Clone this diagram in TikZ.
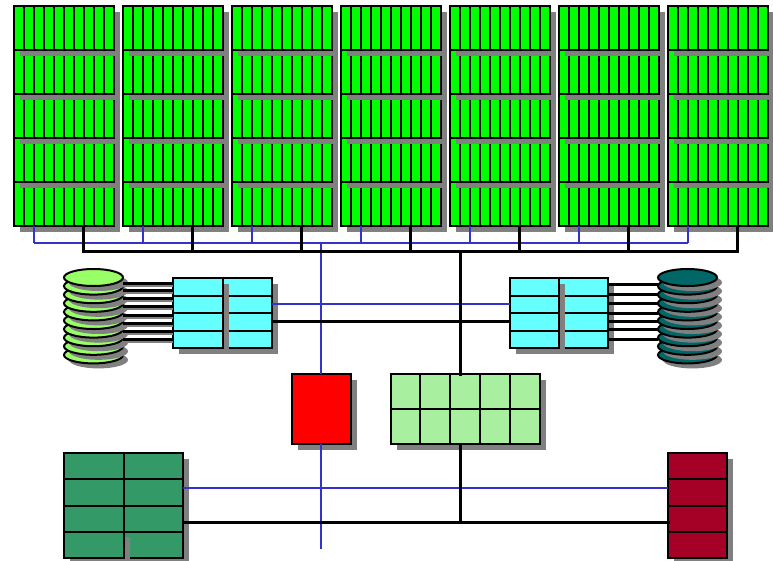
\documentclass[tikz,border=0pt]{standalone}
\usetikzlibrary{shapes.geometric,shadows,calc}
\definecolor{rack}{HTML}{00FF00}
\definecolor{cyanbox}{HTML}{66FFFF}
\definecolor{palegrn}{HTML}{A8F0A0}
\definecolor{seagrn}{HTML}{339966}
\definecolor{crimsonbox}{HTML}{A50026}
\definecolor{lightdisk}{HTML}{99FF66}
\definecolor{darkdisk}{HTML}{006666}
\definecolor{shade}{HTML}{808080}
\definecolor{bluewire}{HTML}{3333CC}
\tikzset{
  shadowed/.style={drop shadow={shadow xshift=6pt,shadow yshift=-6pt,fill=shade,opacity=1}},
  blockbox/.style={draw=black,line width=2pt,rectangle,inner sep=0pt,outer sep=0pt,anchor=north west},
  diskshape/.style={draw=black,line width=2pt,ellipse,inner sep=0pt,outer sep=0pt,minimum width=59pt,minimum height=17pt,
    drop shadow={shadow xshift=5pt,shadow yshift=-5pt,fill=shade,opacity=1}},
  divider/.style={draw=black,line width=2pt},
  kwire/.style={draw=black,line width=3pt,line cap=rect},
  bwire/.style={draw=bluewire,line width=2pt},
  dwire/.style={draw=black,line width=3pt},
  dshade/.style={draw=shade,line width=2pt},
}
% \gridbox{name}{x}{y}{w}{h}{colour}{cols}{rows}{extra}
\newcommand{\gridbox}[9]{%
  \node[blockbox,fill=#6,minimum width=#4pt,minimum height=#5pt,#9] (#1) at (#2,#3) {};
  \pgfmathtruncatemacro{\ncm}{#7-1}\pgfmathtruncatemacro{\nrm}{#8-1}
  \ifnum\ncm>0 \foreach \k in {1,...,\ncm}{\draw[divider] ({#2+\k*#4/#7},#3) -- ++(0,#5);}\fi
  \ifnum\nrm>0 \foreach \k in {1,...,\nrm}{\draw[divider] (#2,{#3+\k*#5/#8}) -- ++(#4,0);}\fi
}
\begin{document}
\begin{tikzpicture}[x=1pt,y=-1pt]
\useasboundingbox (0,0) rectangle (773,560);
% racks, bottom row first
\foreach \c [evaluate=\c as \xx using {14+(\c-1)*109}] in {1,...,7}{
  \foreach \r [evaluate=\r as \yy using {6+(\r-1)*44}] in {5,4,3,2,1}{
    \gridbox{r\c-\r}{\xx}{\yy}{99.5}{44}{rack}{10}{1}{shadowed}
  }
}
% disks
\foreach \i in {9,8,...,0}{
  \node[diskshape,fill=lightdisk] (dl\i) at (93.5,{277.5+\i*8.6}) {};
  \node[diskshape,fill=darkdisk] (dr\i) at (687.5,{277.5+\i*8.6}) {};
}
% cyan blocks
\gridbox{cl2}{223}{278}{49}{70}{cyanbox}{1}{4}{shadowed}
\gridbox{cl1}{173}{278}{50}{70}{cyanbox}{1}{4}{shadowed}
\gridbox{cr2}{559}{278}{49}{70}{cyanbox}{1}{4}{shadowed}
\gridbox{cr1}{509.5}{278}{49.5}{70}{cyanbox}{1}{4}{shadowed}
% centre
\gridbox{redb}{292}{374}{59}{70}{red}{1}{1}{shadowed}
\gridbox{pale}{390.5}{374}{149}{70}{palegrn}{5}{2}{shadowed}
% bottom blocks
\gridbox{sg2}{124}{453}{59}{105}{seagrn}{1}{4}{shadowed}
\gridbox{sg1}{64}{453}{60}{105}{seagrn}{1}{4}{shadowed}
\gridbox{sg3}{124}{453}{59}{78.75}{seagrn}{1}{3}{}
\fill[seagrn] (125,532.8) rectangle (130,537);
\gridbox{crim}{668}{453}{59}{105}{crimsonbox}{1}{4}{shadowed}
% named ends
\coordinate (busB) at (0,251.5);
\coordinate (busU) at (0,243);
\coordinate (midT) at (0,304);
\coordinate (midK) at (0,321.5);
\coordinate (lowT) at (0,488);
\coordinate (lowK) at (0,522.5);
\coordinate (blueend) at (321,549);
% blue wires
\foreach \c in {1,...,7}{
  \coordinate (bd\c) at ($(r\c-5.south west)!0.2!(r\c-5.south east)$);
  \coordinate (kd\c) at ($(r\c-5.south west)!0.7!(r\c-5.south east)$);
  \draw[bwire] (bd\c) -- (bd\c |- busU);
}
\draw[bwire] (bd1 |- busU) -- (bd7 |- busU);
\draw[bwire] (blueend |- busU) -- (blueend |- redb.north);
\draw[bwire] (blueend |- redb.south) -- (blueend);
\draw[bwire] (cl2.east |- midT) -- (cr1.west |- midT);
\draw[bwire] (sg2.east |- lowT) -- (crim.west |- lowT);
% black wires
\foreach \c in {1,...,7}{\draw[kwire] (kd\c) -- (kd\c |- busB);}
\draw[kwire] (kd1 |- busB) -- (kd7 |- busB);
\coordinate (spine) at (460,0);
\draw[kwire] (spine |- busB) -- (spine |- pale.north);
\draw[kwire] (spine |- pale.south) -- (spine |- lowK);
\draw[kwire] (cl2.east |- midK) -- (cr1.west |- midK);
\draw[kwire] (sg2.east |- lowK) -- (crim.west |- lowK);
% disk links
\foreach \y in {283.5,290.5,298.5,306.5,315.5,323.5,331.5,339.5}{
  \draw[dshade] (dl0.east |- 0,\y+2.5) -- (cl1.west |- 0,\y+2.5);
  \draw[dwire] (dl0.east |- 0,\y) -- (cl1.west |- 0,\y);
}
\foreach \y in {284.5,294.5,303.5,313.5,321.5,329.5,339.5}{
  \draw[dwire] (cr2.east |- 0,\y) -- (dr0.west |- 0,\y);
}
\end{tikzpicture}
\end{document}
